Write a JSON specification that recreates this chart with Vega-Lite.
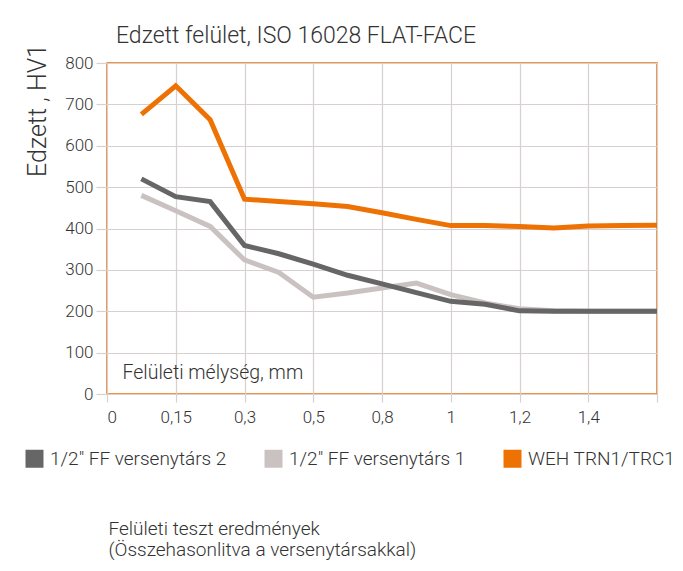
{
  "$schema": "https://vega.github.io/schema/vega-lite/v6.json",
  "width": 550,
  "height": 331,
  "autosize": "none",
  "padding": {"left": 107, "top": 63, "right": 26, "bottom": 177},
  "background": "white",
  "title": {
    "text": "Edzett felület, ISO 16028 FLAT-FACE",
    "anchor": "start",
    "frame": "group",
    "dx": 9,
    "dy": 12,
    "offset": 8,
    "fontSize": 23,
    "font": "Roboto",
    "fontWeight": 300,
    "color": "#333333"
  },
  "config": {
    "view": {"stroke": "#EE7203", "strokeWidth": 1.5},
    "font": "Roboto",
    "axis": {
      "gridColor": "#D8D0D0",
      "gridWidth": 1.2,
      "tickColor": "#D8D0D0",
      "tickWidth": 1.2,
      "domain": false,
      "labelColor": "#333333",
      "labelFont": "Roboto",
      "labelFontWeight": 300,
      "titleFont": "Roboto",
      "titleFontWeight": 300,
      "titleColor": "#333333"
    }
  },
  "data": {
    "values": [
      {"s": "1/2\" FF versenytárs 1", "i": 1, "v": 480},
      {"s": "1/2\" FF versenytárs 1", "i": 2, "v": 443},
      {"s": "1/2\" FF versenytárs 1", "i": 3, "v": 405},
      {"s": "1/2\" FF versenytárs 1", "i": 4, "v": 324},
      {"s": "1/2\" FF versenytárs 1", "i": 5, "v": 294},
      {"s": "1/2\" FF versenytárs 1", "i": 6, "v": 234},
      {"s": "1/2\" FF versenytárs 1", "i": 7, "v": 244},
      {"s": "1/2\" FF versenytárs 1", "i": 8, "v": 256},
      {"s": "1/2\" FF versenytárs 1", "i": 9, "v": 268},
      {"s": "1/2\" FF versenytárs 1", "i": 10, "v": 240},
      {"s": "1/2\" FF versenytárs 1", "i": 11, "v": 220},
      {"s": "1/2\" FF versenytárs 1", "i": 12, "v": 206},
      {"s": "1/2\" FF versenytárs 1", "i": 13, "v": 201},
      {"s": "1/2\" FF versenytárs 1", "i": 14, "v": 200},
      {"s": "1/2\" FF versenytárs 1", "i": 15, "v": 200},
      {"s": "1/2\" FF versenytárs 1", "i": 16, "v": 200},
      {"s": "1/2\" FF versenytárs 2", "i": 1, "v": 520},
      {"s": "1/2\" FF versenytárs 2", "i": 2, "v": 477},
      {"s": "1/2\" FF versenytárs 2", "i": 3, "v": 465},
      {"s": "1/2\" FF versenytárs 2", "i": 4, "v": 359},
      {"s": "1/2\" FF versenytárs 2", "i": 5, "v": 339},
      {"s": "1/2\" FF versenytárs 2", "i": 6, "v": 314},
      {"s": "1/2\" FF versenytárs 2", "i": 7, "v": 287},
      {"s": "1/2\" FF versenytárs 2", "i": 8, "v": 266},
      {"s": "1/2\" FF versenytárs 2", "i": 9, "v": 245},
      {"s": "1/2\" FF versenytárs 2", "i": 10, "v": 224},
      {"s": "1/2\" FF versenytárs 2", "i": 11, "v": 217},
      {"s": "1/2\" FF versenytárs 2", "i": 12, "v": 201},
      {"s": "1/2\" FF versenytárs 2", "i": 13, "v": 200},
      {"s": "1/2\" FF versenytárs 2", "i": 14, "v": 200},
      {"s": "1/2\" FF versenytárs 2", "i": 15, "v": 200},
      {"s": "1/2\" FF versenytárs 2", "i": 16, "v": 200},
      {"s": "WEH TRN1/TRC1", "i": 1, "v": 676},
      {"s": "WEH TRN1/TRC1", "i": 2, "v": 745},
      {"s": "WEH TRN1/TRC1", "i": 3, "v": 663},
      {"s": "WEH TRN1/TRC1", "i": 4, "v": 471},
      {"s": "WEH TRN1/TRC1", "i": 5, "v": 465},
      {"s": "WEH TRN1/TRC1", "i": 6, "v": 460},
      {"s": "WEH TRN1/TRC1", "i": 7, "v": 453},
      {"s": "WEH TRN1/TRC1", "i": 8, "v": 438},
      {"s": "WEH TRN1/TRC1", "i": 9, "v": 422},
      {"s": "WEH TRN1/TRC1", "i": 10, "v": 407},
      {"s": "WEH TRN1/TRC1", "i": 11, "v": 407},
      {"s": "WEH TRN1/TRC1", "i": 12, "v": 405},
      {"s": "WEH TRN1/TRC1", "i": 13, "v": 401},
      {"s": "WEH TRN1/TRC1", "i": 14, "v": 406},
      {"s": "WEH TRN1/TRC1", "i": 15, "v": 407},
      {"s": "WEH TRN1/TRC1", "i": 16, "v": 408}
    ]
  },
  "layer": [
    {
      "mark": {"type": "line", "strokeWidth": 5, "clip": true},
      "encoding": {
        "x": {
          "field": "i",
          "type": "quantitative",
          "scale": {"domain": [0, 16], "nice": false, "zero": false},
          "axis": {
            "values": [0, 1, 2, 3, 4, 5, 6, 7, 8, 9, 10, 11, 12, 13, 14, 15, 16],
            "labelExpr": "datum.value == 0 ? '0' : datum.value == 2 ? '0,15' : datum.value == 4 ? '0,3' : datum.value == 6 ? '0,5' : datum.value == 8 ? '0,8' : datum.value == 10 ? '1' : datum.value == 12 ? '1,2' : datum.value == 14 ? '1,4' : ''",
            "labelFontSize": 17,
            "labelOverlap": false,
            "labelPadding": 7,
            "tickSize": 8,
            "title": ["Felületi teszt eredmények", "(Összehasonlitva a versenytársakkal)"],
            "titleFontSize": 19,
            "titleLineHeight": 21,
            "titleX": 1,
            "titleY": 125,
            "titleAlign": "left",
            "titleBaseline": "top",
            "titleAnchor": "start",
            "titleLimit": 500
          }
        },
        "y": {
          "field": "v",
          "type": "quantitative",
          "scale": {"domain": [0, 800], "nice": false},
          "axis": {
            "values": [0, 100, 200, 300, 400, 500, 600, 700, 800],
            "labelFontSize": 17,
            "labelPadding": 3,
            "tickSize": 11,
            "title": "Edzett , HV1",
            "titleFontSize": 25,
            "titleX": -70,
            "titleY": 47,
            "titleAngle": -90,
            "titleAlign": "center",
            "titleBaseline": "middle"
          }
        },
        "color": {
          "field": "s",
          "type": "nominal",
          "scale": {
            "domain": ["1/2\" FF versenytárs 2", "1/2\" FF versenytárs 1", "WEH TRN1/TRC1"],
            "range": ["#666666", "#CAC2C0", "#EE7203"]
          },
          "legend": {
            "title": null,
            "orient": "none",
            "legendX": -82,
            "legendY": 386,
            "direction": "horizontal",
            "columns": 3,
            "columnPadding": 37,
            "symbolType": "square",
            "symbolSize": 324,
            "symbolStrokeWidth": 0,
            "labelOffset": 6,
            "labelFontSize": 19,
            "labelLimit": 400,
            "labelFont": "Roboto",
            "labelFontWeight": 300,
            "labelColor": "#333333",
            "encode": {
              "symbols": {"update": {"fill": {"scale": "color", "field": "value"}, "strokeWidth": {"value": 0}, "opacity": {"value": 1}}}
            }
          }
        }
      }
    },
    {
      "data": {"values": [{"i": 0.45, "v": 50, "t": "Felületi mélység, mm"}]},
      "mark": {"type": "text", "align": "left", "baseline": "middle", "fontSize": 19.5, "font": "Roboto", "fontWeight": 300, "color": "#333333"},
      "encoding": {
        "x": {"field": "i", "type": "quantitative"},
        "y": {"field": "v", "type": "quantitative"},
        "text": {"field": "t"}
      }
    }
  ]
}
